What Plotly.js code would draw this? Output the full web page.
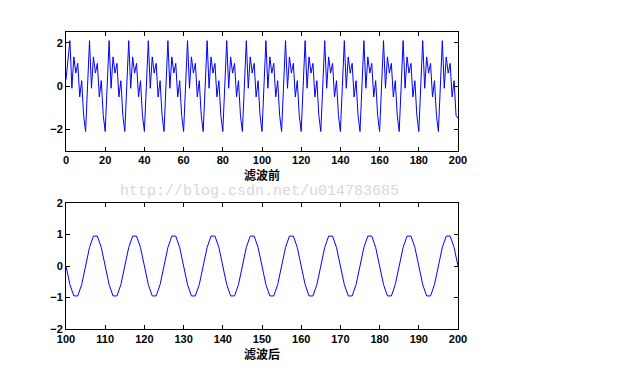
<!DOCTYPE html>
<html>
<head>
<meta charset="utf-8">
<script src="https://cdn.plot.ly/plotly-3.0.1.min.js"></script>
<style>html,body{margin:0;padding:0;background:#fff;}#chart{width:640px;height:387px;}</style>
</head>
<body>
<div id="chart"></div>
<script>
// Top panel: signal before filtering, n = 0..200
const nBefore = Array.from({length: 201}, (_, i) => i);
const xBefore = [
  0.3, 1.4, 2.1, -0.1, 1.35, 0.6, 1.05, -0.5, 0.25, -1.35,
  -2.1, 0.0, 2.1, -0.1, 1.35, 0.6, 1.05, -0.5, 0.25, -1.35,
  -2.1, 0.0, 2.1, -0.1, 1.35, 0.6, 1.05, -0.5, 0.25, -1.35,
  -2.1, 0.0, 2.1, -0.1, 1.35, 0.6, 1.05, -0.5, 0.25, -1.35,
  -2.1, 0.0, 2.1, -0.1, 1.35, 0.6, 1.05, -0.5, 0.25, -1.35,
  -2.1, 0.0, 2.1, -0.1, 1.35, 0.6, 1.05, -0.5, 0.25, -1.35,
  -2.1, 0.0, 2.1, -0.1, 1.35, 0.6, 1.05, -0.5, 0.25, -1.35,
  -2.1, 0.0, 2.1, -0.1, 1.35, 0.6, 1.05, -0.5, 0.25, -1.35,
  -2.1, 0.0, 2.1, -0.1, 1.35, 0.6, 1.05, -0.5, 0.25, -1.35,
  -2.1, 0.0, 2.1, -0.1, 1.35, 0.6, 1.05, -0.5, 0.25, -1.35,
  -2.1, 0.0, 2.1, -0.1, 1.35, 0.6, 1.05, -0.5, 0.25, -1.35,
  -2.1, 0.0, 2.1, -0.1, 1.35, 0.6, 1.05, -0.5, 0.25, -1.35,
  -2.1, 0.0, 2.1, -0.1, 1.35, 0.6, 1.05, -0.5, 0.25, -1.35,
  -2.1, 0.0, 2.1, -0.1, 1.35, 0.6, 1.05, -0.5, 0.25, -1.35,
  -2.1, 0.0, 2.1, -0.1, 1.35, 0.6, 1.05, -0.5, 0.25, -1.35,
  -2.1, 0.0, 2.1, -0.1, 1.35, 0.6, 1.05, -0.5, 0.25, -1.35,
  -2.1, 0.0, 2.1, -0.1, 1.35, 0.6, 1.05, -0.5, 0.25, -1.35,
  -2.1, 0.0, 2.1, -0.1, 1.35, 0.6, 1.05, -0.5, 0.25, -1.35,
  -2.1, 0.0, 2.1, -0.1, 1.35, 0.6, 1.05, -0.5, 0.25, -1.35,
  -2.1, 0.0, 2.1, -0.1, 1.35, 0.6, 1.05, -0.5, 0.25, -1.35,
  -1.5
];
// Bottom panel: signal after filtering, n = 100..200
const nAfter = Array.from({length: 101}, (_, i) => 100 + i);
const yAfter = [
  0, -0.59, -0.95, -0.95, -0.59, 0, 0.59, 0.95, 0.95, 0.59,
  0, -0.59, -0.95, -0.95, -0.59, 0, 0.59, 0.95, 0.95, 0.59,
  0, -0.59, -0.95, -0.95, -0.59, 0, 0.59, 0.95, 0.95, 0.59,
  0, -0.59, -0.95, -0.95, -0.59, 0, 0.59, 0.95, 0.95, 0.59,
  0, -0.59, -0.95, -0.95, -0.59, 0, 0.59, 0.95, 0.95, 0.59,
  0, -0.59, -0.95, -0.95, -0.59, 0, 0.59, 0.95, 0.95, 0.59,
  0, -0.59, -0.95, -0.95, -0.59, 0, 0.59, 0.95, 0.95, 0.59,
  0, -0.59, -0.95, -0.95, -0.59, 0, 0.59, 0.95, 0.95, 0.59,
  0, -0.59, -0.95, -0.95, -0.59, 0, 0.59, 0.95, 0.95, 0.59,
  0, -0.59, -0.95, -0.95, -0.59, 0, 0.59, 0.95, 0.95, 0.59,
  0
];
const topTicks = [0, 20, 40, 60, 80, 100, 120, 140, 160, 180, 200];
const topYTicks = [-2, 0, 2];
const botTicks = [100, 110, 120, 130, 140, 150, 160, 170, 180, 190, 200];
const botYTicks = [-2, -1, 0, 1, 2];
const labelBefore = '滤波前';
const labelAfter = '滤波后';
const watermark = 'http://blog.csdn.net/u014783685';

const W = 640, H = 387;
const px = v => v / W;
const py = v => 1 - v / H;
const tickFont = {family: 'Liberation Sans, Arial, sans-serif', size: 11, color: '#000', weight: 'bold'};
const titleFont = {family: 'Noto Sans CJK SC', size: 12, color: '#000', weight: 'bold'};
const axisCommon = {
  showline: true, linecolor: '#000', linewidth: 1, mirror: 'ticks',
  ticks: 'inside', ticklen: 4, tickcolor: '#000', tickwidth: 1,
  showgrid: false, zeroline: false, tickfont: tickFont, fixedrange: true
};

const data = [
  {x: nBefore, y: xBefore, type: 'scatter', mode: 'lines', line: {color: '#0000ff', width: 1}, xaxis: 'x', yaxis: 'y', hoverinfo: 'none'},
  {x: nAfter, y: yAfter, type: 'scatter', mode: 'lines', line: {color: '#0000ff', width: 1}, xaxis: 'x2', yaxis: 'y2', hoverinfo: 'none'}
];

const layout = {
  width: W, height: H,
  margin: {l: 0, r: 0, t: 0, b: 0},
  paper_bgcolor: '#fff', plot_bgcolor: '#fff',
  showlegend: false,
  xaxis: Object.assign({}, axisCommon, {domain: [px(66), px(458)], range: [0, 200], tickvals: topTicks, anchor: 'y', ticklabelstandoff: -1,
    title: {text: labelBefore, font: titleFont, standoff: 1}}),
  yaxis: Object.assign({}, axisCommon, {domain: [py(151), py(32)], range: [-3, 2.5], tickvals: topYTicks, anchor: 'x'}),
  xaxis2: Object.assign({}, axisCommon, {domain: [px(66), px(458)], range: [100, 200], tickvals: botTicks, anchor: 'y2', ticklabelstandoff: 0,
    title: {text: labelAfter, font: titleFont, standoff: 1}}),
  yaxis2: Object.assign({}, axisCommon, {domain: [py(329), py(203)], range: [-2, 2], tickvals: botYTicks, anchor: 'x2'}),
  annotations: [
    {text: watermark, xref: 'paper', yref: 'paper', x: px(259), y: py(191), xanchor: 'center', yanchor: 'middle', showarrow: false,
     font: {family: 'Liberation Mono, DejaVu Sans Mono, monospace', size: 15, color: '#d8d8d8'}}
  ]
};

Plotly.newPlot('chart', data, layout, {staticPlot: true, displayModeBar: false});
</script>
</body>
</html>
